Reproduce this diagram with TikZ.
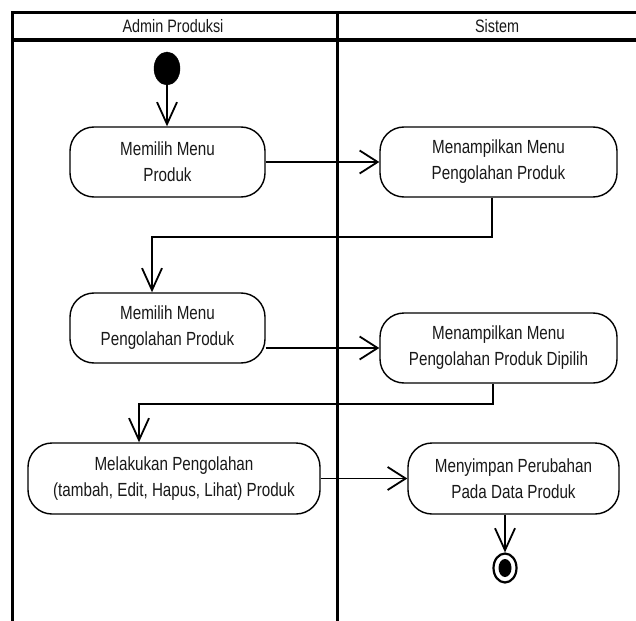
\documentclass[tikz,border=0pt]{standalone}
\usepackage{fontspec}
\setmainfont{Liberation Sans}[FakeStretch=0.8]
\usetikzlibrary{arrows.meta,shapes.geometric,calc}

\begin{document}
\begin{tikzpicture}[x=1pt,y=-1pt,
  lane/.style={draw=black, line width=3pt},
  headtext/.style={font=\fontsize{18}{22}\selectfont, text=black!90},
  action/.style={draw=black, line width=1.4pt, rounded corners=24pt,
    align=center, inner sep=0pt, minimum height=70pt,
    font=\fontsize{19}{26}\selectfont, text=black!90},
  flow/.style={draw=black, line width=1.4pt},
  varr/.style={-{Straight Barb[length=22pt,width=20pt,line width=1.8pt]}},
  harr/.style={-{Straight Barb[length=18pt,width=23pt,line width=1.8pt]}},
  startnode/.style={ellipse, fill=black, draw=black, inner sep=0pt,
    minimum width=26pt, minimum height=33pt},
  endring/.style={ellipse, draw=black, fill=white, line width=2.2pt, inner sep=0pt,
    minimum width=23pt, minimum height=29pt},
  enddot/.style={ellipse, fill=black, inner sep=0pt,
    minimum width=13pt, minimum height=18pt}
]
\useasboundingbox (0,0) rectangle (636,620);
\fill[white] (0,0) rectangle (636,620);

% swimlane frame
\draw[lane] (12.5,622) -- (12.5,12.5) -- (640,12.5);
\draw[lane, line width=4pt] (11,40.5) -- (640,40.5);
\draw[lane] (337,12.5) -- (337,622);
\node[headtext] (h1) at (173,26.5) {Admin Produksi};
\node[headtext] (h2) at (497,26.5) {Sistem};

% activities
\node[startnode] (start) at (167,68.5) {};
\node[action, minimum width=195pt] (b1) at (167.5,162) {Memilih Menu\\Produk};
\node[action, minimum width=237pt] (b2) at (498.5,162) {Menampilkan Menu\\Pengolahan Produk};
\node[action, minimum width=195pt] (b3) at (167.5,328) {Memilih Menu\\Pengolahan Produk};
\node[action, minimum width=237pt] (b4) at (498.5,348) {Menampilkan Menu\\Pengolahan Produk Dipilih};
\node[action, minimum width=292pt, minimum height=71pt] (b5) at (174,478.5) {Melakukan Pengolahan\\(tambah, Edit, Hapus, Lihat) Produk};
\node[action, minimum width=211pt, minimum height=71pt] (b6) at (513.5,478.5) {Menyimpan Perubahan\\Pada Data Produk};
\node[endring] (end) at (505,568) {};
\node[enddot] (enddot) at (end) {};

% bends of the return flows
\coordinate (k1) at (152,237);
\coordinate (k2) at (139,404);

% control flow
\draw[flow, varr] (start) -- (start |- b1.north);
\draw[flow, harr] (b1) -- (b2);
\draw[flow, varr] ([xshift=-6.5pt]b2.south) |- (k1) -- (k1 |- b3.north);
\draw[flow, harr] (b4.west -| b3.east) -- (b4.west);
\draw[flow, varr] ([xshift=-5.5pt]b4.south) |- (k2) -- (k2 |- b5.north);
\draw[flow, harr] (b5) -- (b6);
\draw[flow, varr] (end |- b6.south) -- (end.north);
\end{tikzpicture}
\end{document}
